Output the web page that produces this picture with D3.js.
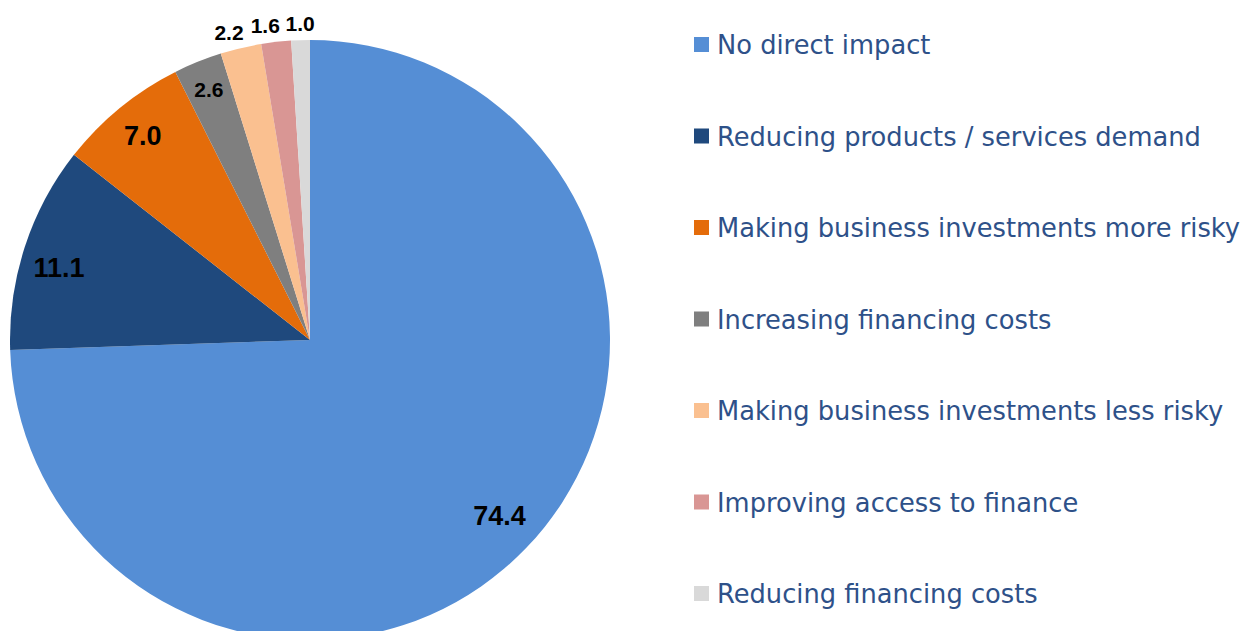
<!DOCTYPE html>
<html>
<head>
<meta charset="utf-8">
<script src="https://cdn.jsdelivr.net/npm/d3@7"></script>
<style>
  html, body { margin: 0; padding: 0; background: #ffffff; }
  svg { display: block; }
</style>
</head>
<body>
<svg id="chart" width="1251" height="631"></svg>
<script>
// ---- data ----
const categories = [
  "No direct impact",
  "Reducing products / services demand",
  "Making business investments more risky",
  "Increasing financing costs",
  "Making business investments less risky",
  "Improving access to finance",
  "Reducing financing costs"
];
const values = [74.4, 11.1, 7.0, 2.6, 2.2, 1.6, 1.0];
const valueLabels = ["74.4", "11.1", "7.0", "2.6", "2.2", "1.6", "1.0"];
const colors = ["#558ED5", "#1F497D", "#E46C0A", "#7F7F7F", "#FAC090", "#D99694", "#D9D9D9"];

// ---- layout / style ----
const W = 1251, H = 631;
const cx = 310, cy = 340, R = 300;
const labelRadius = [0.86, 0.87, 0.88, 0.90, 1.055, 1.055, 1.055];
const labelNudgeX = [4, -3, 0, 0, -8, -9, 0];
const labelNudgeY = [-4, 8, 0, 0, 0, 0, 0];
const labelSize = [27, 27, 27, 21, 21, 21, 21];

const svg = d3.select("#chart");
const data = categories.map((c, i) => ({ cat: c, value: values[i], label: valueLabels[i], color: colors[i], i }));

const pie = d3.pie().sort(null).value(d => d.value).startAngle(0).endAngle(2 * Math.PI);
const arcs = pie(data);
const arc = d3.arc().innerRadius(0).outerRadius(R);

const g = svg.append("g").attr("transform", `translate(${cx},${cy})`);
g.selectAll("path.slice")
  .data(arcs)
  .join("path")
  .attr("class", "slice")
  .attr("d", arc)
  .attr("fill", d => d.data.color);

g.selectAll("text.vlabel")
  .data(arcs)
  .join("text")
  .attr("class", "vlabel")
  .attr("x", d => {
    const a = (d.startAngle + d.endAngle) / 2;
    return Math.sin(a) * R * labelRadius[d.data.i] + labelNudgeX[d.data.i];
  })
  .attr("y", d => {
    const a = (d.startAngle + d.endAngle) / 2;
    return -Math.cos(a) * R * labelRadius[d.data.i] + labelNudgeY[d.data.i];
  })
  .attr("dy", "0.36em")
  .attr("text-anchor", "middle")
  .style("font-family", "'Liberation Sans', Arial, sans-serif")
  .style("font-weight", "bold")
  .style("font-size", d => labelSize[d.data.i] + "px")
  .attr("fill", "#000")
  .text(d => d.data.label);

// ---- legend ----
const legendY = d3.scalePoint().domain(categories).range([45, 594]);
const legend = svg.append("g");
const items = legend.selectAll("g.item")
  .data(data)
  .join("g")
  .attr("class", "item")
  .attr("transform", d => `translate(694,${legendY(d.cat)})`);

items.append("rect")
  .attr("x", 0).attr("y", -8)
  .attr("width", 15).attr("height", 15)
  .attr("fill", d => d.color);

const texts = items.append("text")
  .attr("x", 23)
  .attr("y", 0)
  .attr("dy", "0.35em")
  .style("font-family", "'DejaVu Sans', sans-serif")
  .style("font-size", "26px")
  .attr("fill", "#2E5189")
  .text(d => d.cat);

// fit legend font so the longest entry spans the reference width
const targetW = 523;
let maxW = 0;
texts.each(function () { maxW = Math.max(maxW, this.getComputedTextLength()); });
const fs = 26 * targetW / maxW;
texts.style("font-size", fs.toFixed(2) + "px");
</script>
</body>
</html>
